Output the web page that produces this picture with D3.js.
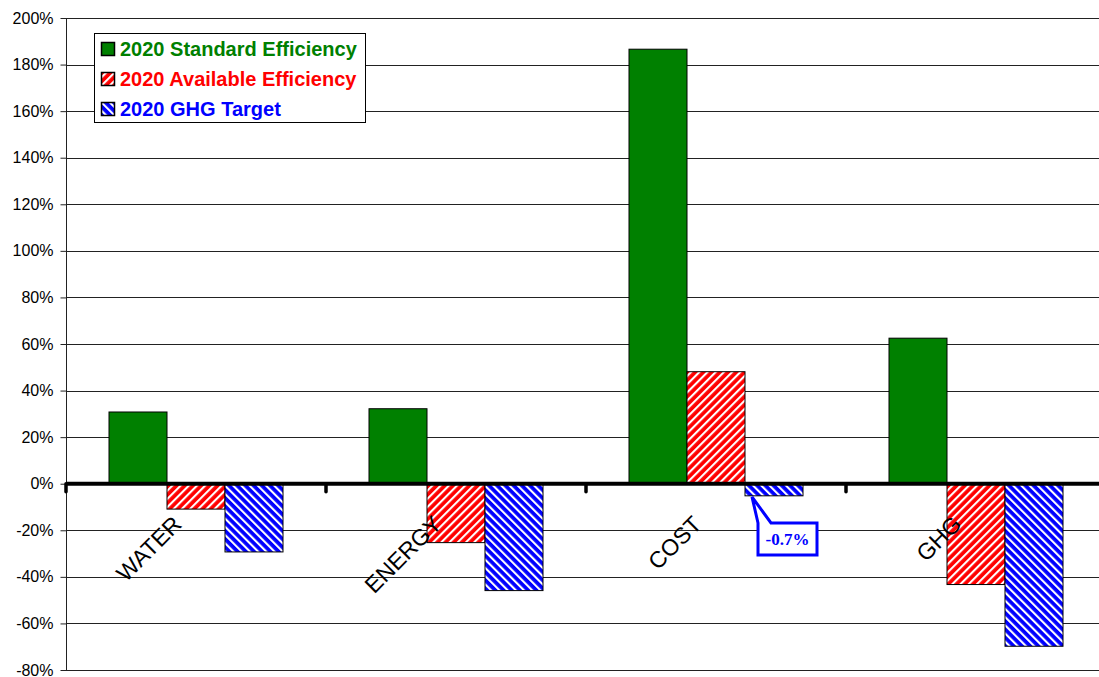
<!DOCTYPE html>
<html>
<head>
<meta charset="utf-8">
<script src="https://cdn.jsdelivr.net/npm/d3@7/dist/d3.min.js"></script>
<style>
  body { margin: 0; background: #fff; }
  text { font-family: Arial, "Liberation Sans", sans-serif; }
</style>
</head>
<body>
<script>
var categories = ["WATER", "ENERGY", "COST", "GHG"];
var seriesNames = ["2020 Standard Efficiency", "2020 Available Efficiency", "2020 GHG Target"];
var standard = [30.8, 32.2, 186.6, 62.5];
var available = [-10.9, -25.3, 48.1, -43.3];
var ghgTarget = [-29.3, -45.9, -5.2, -69.8];
var yTicks = [-80, -60, -40, -20, 0, 20, 40, 60, 80, 100, 120, 140, 160, 180, 200];
var calloutText = "-0.7%";

var series = [standard, available, ghgTarget];
var fills = ["#008000", "url(#redStripe)", "url(#blueStripe)"];
var textColors = ["#008000", "#ff0000", "#0000ff"];

var W = 1099, H = 677;
var plotLeft = 66, plotTop = 18, plotBottom = 670;

var svg = d3.select("body")
    .append("svg")
    .attr("width", W)
    .attr("height", H);

// stripe patterns
var defs = svg.append("defs");
function stripe(id, color, angle) {
    var p = defs.append("pattern")
        .attr("id", id)
        .attr("patternUnits", "userSpaceOnUse")
        .attr("width", 5.8)
        .attr("height", 5.8)
        .attr("patternTransform", "rotate(" + angle + ")");
    p.append("rect").attr("width", 5.8).attr("height", 5.8).attr("fill", color);
    p.append("rect").attr("x", 0).attr("width", 2.1).attr("height", 5.8).attr("fill", "#fff");
}
stripe("redStripe", "#ff0000", 45);
stripe("blueStripe", "#0000ff", -45);

var y = d3.scaleLinear().domain([-80, 200]).range([plotBottom, plotTop]);
var x0 = d3.scaleBand().domain(categories).range([plotLeft, plotLeft + 260 * 4]).padding(0);
var x1 = d3.scaleBand().domain(d3.range(3)).range([43, 217]).padding(0);

// gridlines
svg.append("g")
    .selectAll("line")
    .data(yTicks)
    .enter()
    .append("line")
    .attr("x1", plotLeft)
    .attr("x2", W)
    .attr("y1", d => Math.round(y(d)) + 0.5)
    .attr("y2", d => Math.round(y(d)) + 0.5)
    .attr("stroke", "#222")
    .attr("stroke-width", 1);

// y axis
var yAxis = svg.append("g")
    .attr("transform", "translate(" + (plotLeft + 0.5) + ",0)")
    .call(d3.axisLeft(y).tickValues(yTicks).tickSize(6).tickPadding(7).tickFormat(d => d + "%"));
yAxis.select(".domain").attr("stroke", "#222").attr("d", "M0," + plotTop + "V" + plotBottom);
yAxis.selectAll(".tick line").attr("stroke", "#222");
yAxis.selectAll(".tick text")
    .attr("font-size", 16)
    .attr("fill", "#000")
    .style("font-family", "Arial, 'Liberation Sans', sans-serif");

// bars
var groups = svg.append("g")
    .selectAll("g")
    .data(categories)
    .enter()
    .append("g")
    .attr("transform", d => "translate(" + x0(d) + ",0)");

groups.selectAll("rect")
    .data((d, i) => series.map((s, j) => ({ j: j, v: s[i] })))
    .enter()
    .append("rect")
    .attr("x", d => x1(d.j))
    .attr("width", x1.bandwidth())
    .attr("y", d => y(Math.max(0, d.v)))
    .attr("height", d => Math.abs(y(d.v) - y(0)))
    .attr("fill", d => fills[d.j])
    .attr("stroke", "#000")
    .attr("stroke-width", 1);

// zero line
svg.append("line")
    .attr("x1", plotLeft)
    .attr("x2", W)
    .attr("y1", y(0))
    .attr("y2", y(0))
    .attr("stroke", "#000")
    .attr("stroke-width", 4);

// category ticks
svg.append("g")
    .selectAll("line")
    .data(categories)
    .enter()
    .append("line")
    .attr("x1", d => x0(d))
    .attr("x2", d => x0(d))
    .attr("y1", y(0))
    .attr("y2", y(0) + 8)
    .attr("stroke", "#000")
    .attr("stroke-width", 3.5)
    .attr("stroke-linecap", "round");

// category labels
svg.append("g")
    .selectAll("text")
    .data(categories)
    .enter()
    .append("text")
    .attr("transform", d => "translate(" + (x0(d) + x0.bandwidth() / 2 - 13) + "," + (y(0) + 42) + ") rotate(-45)")
    .attr("text-anchor", "end")
    .attr("font-size", 23)
    .attr("fill", "#000")
    .text(d => d);

// callout for COST GHG target
var cx = x0("COST") + x1(2);
var tipX = cx + 7, tipY = y(ghgTarget[2]) + 1;
var bx = 758, by = 523, bw = 59, bh = 32;
svg.append("path")
    .attr("d", "M" + bx + "," + by + "H" + (tipX + 6) + "L" + tipX + "," + tipY + "L" + (tipX + 19) + "," + by +
        "H" + (bx + bw) + "V" + (by + bh) + "H" + bx + "Z")
    .attr("fill", "#fff")
    .attr("stroke", "#0000ff")
    .attr("stroke-width", 3)
    .attr("stroke-linejoin", "miter");
svg.append("text")
    .attr("x", bx + bw / 2)
    .attr("y", by + bh / 2 + 6)
    .attr("text-anchor", "middle")
    .attr("font-size", 17)
    .attr("font-weight", "bold")
    .attr("fill", "#0000ff")
    .style("font-family", "'Liberation Serif', 'Times New Roman', serif")
    .text(calloutText);

// legend
var legend = svg.append("g");
legend.append("rect")
    .attr("x", 94.5)
    .attr("y", 33.5)
    .attr("width", 271)
    .attr("height", 89)
    .attr("fill", "#fff")
    .attr("stroke", "#000")
    .attr("stroke-width", 1);
var items = legend.selectAll("g")
    .data(seriesNames)
    .enter()
    .append("g")
    .attr("transform", (d, i) => "translate(0," + (49 + i * 30) + ")");
items.append("rect")
    .attr("x", 101.5)
    .attr("y", -6.5)
    .attr("width", 13)
    .attr("height", 13)
    .attr("fill", (d, i) => fills[i])
    .attr("stroke", "#000")
    .attr("stroke-width", 1.5);
items.append("text")
    .attr("x", 120)
    .attr("y", 7)
    .attr("font-size", 20)
    .attr("font-weight", "bold")
    .attr("fill", (d, i) => textColors[i])
    .text(d => d);
</script>
</body>
</html>
